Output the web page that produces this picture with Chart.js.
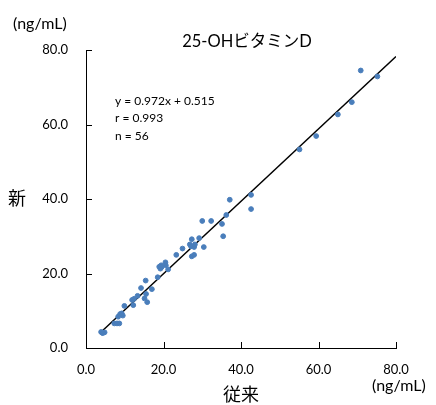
<!DOCTYPE html>
<html lang="ja">
<head>
  <meta charset="UTF-8" />
  <title>25-OHビタミンD 相関</title>
  <script src="https://cdn.jsdelivr.net/npm/chart.js"></script>
  <style>
    body { margin: 0; background: #fff; }
    canvas { display: block; }
  </style>
</head>
<body>
  <canvas id="corrChart" width="436" height="405"></canvas>

  <script>
    // 従来法 (x) と 新法 (y) の測定値
    const oldValues = [3.9, 4.3, 4.8, 4.2, 7.3, 8.0, 8.6, 8.3, 8.8, 9.5, 9.2, 9.9, 11.9, 12.4, 12.2, 13.3,
      14.2, 15.4, 15.1, 15.5, 15.8, 17.0, 18.5, 18.9, 19.4, 19.2, 19.5, 19.3, 20.5, 20.6, 21.2, 23.3, 24.9,
      26.8, 27.1, 27.3, 27.9, 28.1, 27.3, 27.9, 29.2, 30.4, 30.0, 32.3, 35.1, 35.4, 36.2, 37.1, 42.6, 42.6,
      55.1, 59.4, 65.0, 68.6, 70.9, 75.2];
    const newValues = [4.3, 4.0, 4.2, 4.1, 6.6, 6.6, 6.6, 8.4, 9.1, 8.7, 9.3, 11.3, 12.9, 13.2, 11.5, 14.0,
      16.1, 18.1, 13.3, 14.5, 12.3, 15.8, 19.0, 21.8, 22.2, 21.3, 21.7, 21.9, 23.0, 22.2, 21.1, 25.0, 26.7,
      27.8, 27.3, 29.2, 27.1, 27.8, 24.6, 25.0, 29.5, 27.1, 34.1, 34.1, 33.3, 30.0, 35.7, 39.8, 41.1, 37.3,
      53.3, 56.9, 62.7, 66.0, 74.5, 72.9];

    // 回帰式
    const slope = 0.972;
    const intercept = 0.515;
    const fitRange = [3.9, 80];
    const statLines = ['y = 0.972x + 0.515', 'r = 0.993', 'n = 56'];

    const axisTicks = [0, 20, 40, 60, 80];
    const FONT = 'Lato, "Noto Sans CJK JP", sans-serif';

    const points = oldValues.map((x, i) => ({ x, y: newValues[i] }));
    const fitLine = fitRange.map(x => ({ x, y: slope * x + intercept }));

    // テキストと内向きの目盛り線
    const decor = {
      id: 'decor',
      afterDraw(chart) {
        const { ctx, scales: { x, y } } = chart;
        ctx.save();
        ctx.strokeStyle = '#000';
        ctx.lineWidth = 1;
        axisTicks.forEach(v => {
          const px = Math.round(x.getPixelForValue(v)) + 0.5;
          const py = Math.round(y.getPixelForValue(v)) + 0.5;
          ctx.beginPath();
          ctx.moveTo(px, y.bottom); ctx.lineTo(px, y.bottom - 6);
          ctx.moveTo(x.left, py); ctx.lineTo(x.left + 6, py);
          ctx.stroke();
        });

        ctx.fillStyle = '#000';
        ctx.textBaseline = 'middle';
        ctx.textAlign = 'center';
        ctx.font = '16.5px ' + FONT;
        ctx.fillText('25-OHビタミンD', 247, 42);

        ctx.font = '18px ' + FONT;
        ctx.fillText('新', 17, 199);
        ctx.fillText('従来', 241, 395);

        ctx.font = '16px ' + FONT;
        ctx.textAlign = 'left';
        ctx.fillText('(ng/mL)', 13, 24);
        ctx.fillText('(ng/mL)', 372, 386);

        ctx.font = '12px ' + FONT;
        statLines.forEach((t, i) => ctx.fillText(t, 115, 101 + i * 17.5));
        ctx.restore();
      }
    };

    const tickOpts = {
      stepSize: 20,
      color: '#000',
      font: { family: FONT, size: 13 },
      callback: v => v.toFixed(1)
    };

    new Chart(document.getElementById('corrChart'), {
      type: 'scatter',
      data: {
        datasets: [
          {
            label: '測定値',
            data: points,
            backgroundColor: '#4a7ebb',
            borderColor: '#4a7ebb',
            pointRadius: 2.4,
            pointHoverRadius: 2.4
          },
          {
            type: 'line',
            label: '回帰直線',
            data: fitLine,
            borderColor: '#000',
            borderWidth: 1.5,
            pointRadius: 0,
            fill: false
          }
        ]
      },
      options: {
        responsive: false,
        animation: false,
        layout: { padding: { top: 50, right: 40, left: 0, bottom: 0 } },
        plugins: { legend: { display: false }, tooltip: { enabled: false } },
        scales: {
          x: {
            type: 'linear',
            min: 0, max: 80,
            ticks: { ...tickOpts, padding: 14 },
            grid: { display: false, drawTicks: false },
            border: { display: true, color: '#000', width: 1 },
            afterFit: s => { s.height = 57; }
          },
          y: {
            min: 0, max: 80,
            ticks: { ...tickOpts, padding: 18 },
            grid: { display: false, drawTicks: false },
            border: { display: true, color: '#000', width: 1 },
            afterFit: s => { s.width = 86; }
          }
        }
      },
      plugins: [decor]
    });
  </script>
</body>
</html>
